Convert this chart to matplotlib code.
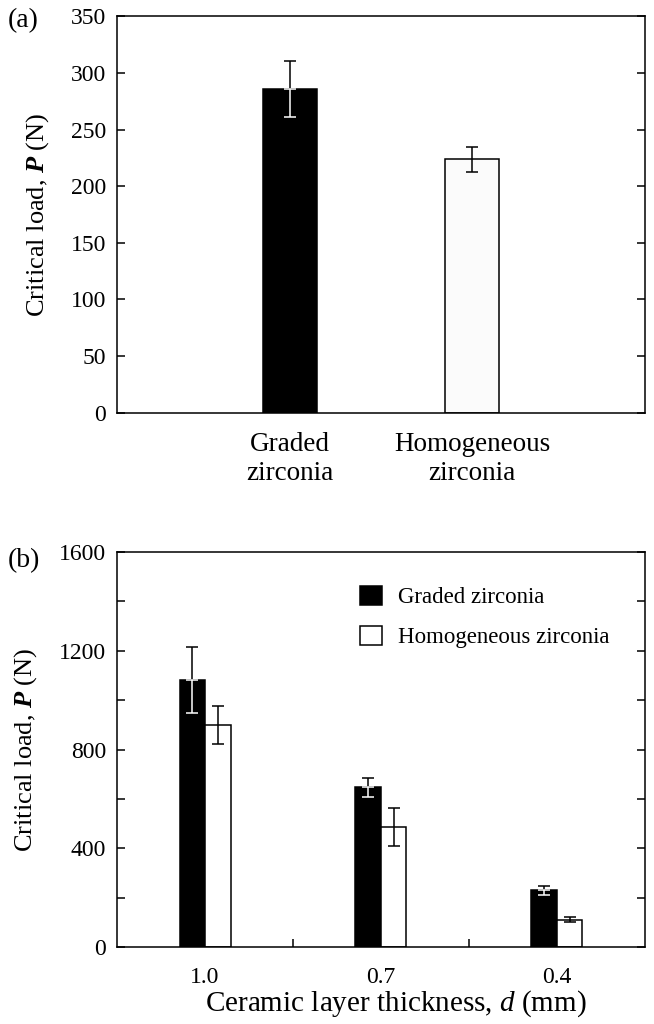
import numpy as np
import matplotlib.pyplot as plt
from matplotlib.ticker import MultipleLocator, FixedLocator

plt.rcParams['font.family'] = ['Liberation Serif', 'DejaVu Serif']
plt.rcParams['mathtext.fontset'] = 'custom'
plt.rcParams['mathtext.rm'] = 'Liberation Serif'
plt.rcParams['mathtext.it'] = 'Liberation Serif:italic'
plt.rcParams['mathtext.bf'] = 'Liberation Serif:bold'
plt.rcParams['mathtext.bfit'] = 'Liberation Serif:italic:bold'
plt.rcParams['font.size'] = 17
plt.rcParams['axes.linewidth'] = 1.1

# panel (a)
a_labels = ['Graded\nzirconia', 'Homogeneous\nzirconia']
a_vals = [286, 224]
a_err = [25, 11]

# panel (b)
thick = ['1.0', '0.7', '0.4']
graded = [1082, 648, 230]
graded_err = [135, 38, 17]
homog = [900, 485, 112]
homog_err = [78, 77, 12]

fig = plt.figure(figsize=(6.54, 10.24), dpi=100)
ax1 = fig.add_axes([0.179, 0.597, 0.807, 0.387])
ax2 = fig.add_axes([0.179, 0.075, 0.807, 0.386])

lw = 1.1
ekw = dict(fmt='none', elinewidth=lw, capsize=4, capthick=lw)
ylab = r'Critical load, $\mathbfit{P}$ (N)'

# ---- (a)
x = np.array([1, 2])
ax1.bar(x, a_vals, width=0.3, color=['black', '#fbfbfb'], edgecolor='black', linewidth=lw)
# graded: part above bar black, part inside bar white
ax1.errorbar(x[:1], a_vals[:1], yerr=[[0], [a_err[0]]], ecolor='black', **ekw)
ax1.errorbar(x[:1], a_vals[:1], yerr=[[a_err[0]], [0]], ecolor='white', **ekw)
ax1.errorbar(x[1:], a_vals[1:], yerr=[a_err[1:]], ecolor='black', **ekw)
ax1.set_xlim(0.05, 2.95)
ax1.set_ylim(0, 350)
ax1.set_yticks(np.arange(0, 351, 50))
ax1.set_xticks(x)
ax1.set_xticklabels(a_labels, linespacing=1.2, fontsize=19.5)
ax1.tick_params(axis='x', length=0, pad=14)
ax1.tick_params(axis='y', direction='in', length=6, width=lw, right=True, pad=8)
ax1.set_ylabel(ylab, fontsize=19, labelpad=14)
fig.text(0.012, 0.9795, '(a)', ha='left', va='center', fontsize=20)

# ---- (b)
xb = np.arange(len(thick))
w = 0.145
ax2.bar(xb - w / 2, graded, width=w, color='black', edgecolor='black', linewidth=lw,
        label='Graded zirconia')
ax2.bar(xb + w / 2, homog, width=w, color='white', edgecolor='black', linewidth=lw,
        label='Homogeneous zirconia')
ax2.errorbar(xb - w / 2, graded, yerr=[np.zeros(3), graded_err], ecolor='black', **ekw)
ax2.errorbar(xb - w / 2, graded, yerr=[graded_err, np.zeros(3)], ecolor='white', **ekw)
ax2.errorbar(xb + w / 2, homog, yerr=homog_err, ecolor='black', **ekw)
ax2.set_xlim(-0.5, 2.5)
ax2.set_ylim(0, 1600)
ax2.yaxis.set_major_locator(MultipleLocator(400))
ax2.yaxis.set_minor_locator(MultipleLocator(200))
ax2.set_xticks(xb)
ax2.set_xticklabels(thick)
ax2.xaxis.set_minor_locator(FixedLocator([0.5, 1.5]))
ax2.tick_params(axis='x', which='major', length=0, pad=14)
ax2.tick_params(axis='x', which='minor', direction='in', length=6, width=lw)
ax2.tick_params(axis='y', which='both', direction='in', length=6, width=lw, right=True, pad=8)
ax2.set_ylabel(ylab, fontsize=19, labelpad=14)
ax2.set_xlabel(r'Ceramic layer thickness, $\mathit{d}$ (mm)', fontsize=21)
ax2.xaxis.set_label_coords(0.528, -0.105)
ax2.legend(loc='upper left', bbox_to_anchor=(0.46, 0.915), frameon=False, fontsize=16.5,
           handlelength=0.95, handleheight=0.9, labelspacing=0.78, handletextpad=0.7,
           borderaxespad=0, borderpad=0)
fig.text(0.012, 0.453, '(b)', ha='left', va='center', fontsize=20)

fig.savefig('out.png', dpi=100)
